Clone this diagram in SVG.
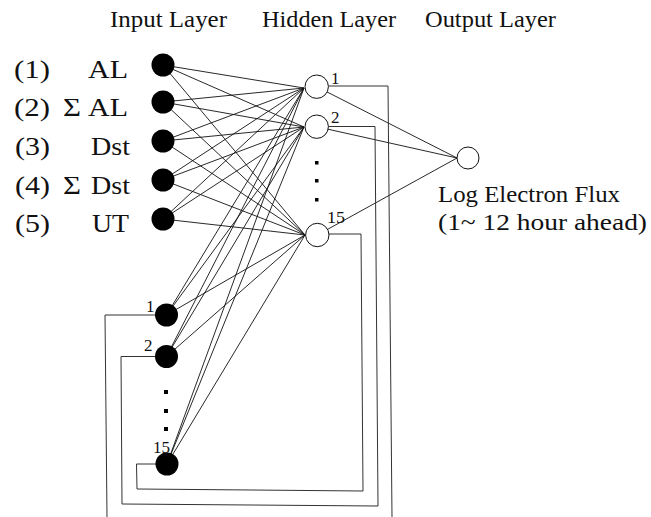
<svg xmlns="http://www.w3.org/2000/svg" width="651" height="517" viewBox="0 0 651 517">
<style>
.t{font-family:"Liberation Serif","Times New Roman",serif;font-size:24px;fill:#111}
.l{font-family:"Liberation Serif","Times New Roman",serif;font-size:26px;fill:#111}
.s{font-family:"Liberation Serif","Times New Roman",serif;font-size:17px;fill:#111}
.e{stroke:#111;stroke-width:0.9;fill:none}
.f{stroke:#333;stroke-width:1;fill:none}
.in{fill:#000}
.hid{fill:#fff;stroke:#111;stroke-width:1}
.dot{fill:#000}
</style>
<rect width="651" height="517" fill="#fff"/>
<g id="headers">
<text class="t" x="110" y="27" textLength="117" lengthAdjust="spacingAndGlyphs">Input Layer</text>
<text class="t" x="262" y="27" textLength="134" lengthAdjust="spacingAndGlyphs">Hidden Layer</text>
<text class="t" x="425" y="27" textLength="131" lengthAdjust="spacingAndGlyphs">Output Layer</text>
</g>
<g id="connectors">
<g class="e">
<path d="M163,65L304,88M163,65L304,127M163,65L305,235"/>
<path d="M163,102L304,88M163,102L304,127M163,102L305,235"/>
<path d="M163,141L304,88M163,141L304,127M163,141L305,235"/>
<path d="M163,180L304,88M163,180L304,127M163,180L305,235"/>
<path d="M163,219L304,88M163,219L304,127M163,219L305,235"/>
<path d="M166.5,315L304,88M166.5,315L304,127M166.5,315L305,235"/>
<path d="M166.5,356.5L304,88M166.5,356.5L304,127M166.5,356.5L305,235"/>
<path d="M167,464L304,88M167,464L304,127M167,464L305,235"/>
<path d="M316.7,86.7L457,158M316.7,126.7L457,158M317.3,235L457,158"/>
</g>
<g class="f">
<polyline points="328.4,86 388,86 392,517"/>
<polyline points="155,315 105,315 107,517"/>
<polyline points="328.4,126.5 375,126.5 378,506 122,504 121,356.5 155,356.5"/>
<polyline points="329,234 361,234 363,491 137,489 136.5,464 156,464"/>
</g>
</g>
<g id="in1"><circle class="in" cx="163" cy="65" r="11.5"/><text class="l" x="14" y="78" textLength="36" lengthAdjust="spacingAndGlyphs">(1)</text><text class="l" x="88" y="78" textLength="40" lengthAdjust="spacingAndGlyphs">AL</text></g>
<g id="in2"><circle class="in" cx="163" cy="102" r="11.5"/><text class="l" x="14" y="116" textLength="36" lengthAdjust="spacingAndGlyphs">(2)</text><text class="l" x="63" y="116" textLength="18" lengthAdjust="spacingAndGlyphs">Σ</text><text class="l" x="88" y="116" textLength="40" lengthAdjust="spacingAndGlyphs">AL</text></g>
<g id="in3"><circle class="in" cx="163" cy="141" r="11.5"/><text class="l" x="15" y="155" textLength="35" lengthAdjust="spacingAndGlyphs">(3)</text><text class="l" x="91" y="155" textLength="39" lengthAdjust="spacingAndGlyphs">Dst</text></g>
<g id="in4"><circle class="in" cx="163" cy="180" r="11.5"/><text class="l" x="15" y="194" textLength="35" lengthAdjust="spacingAndGlyphs">(4)</text><text class="l" x="63" y="194" textLength="18" lengthAdjust="spacingAndGlyphs">Σ</text><text class="l" x="91" y="194" textLength="39" lengthAdjust="spacingAndGlyphs">Dst</text></g>
<g id="in5"><circle class="in" cx="163" cy="219" r="11.5"/><text class="l" x="15" y="232" textLength="35" lengthAdjust="spacingAndGlyphs">(5)</text><text class="l" x="92" y="232" textLength="37" lengthAdjust="spacingAndGlyphs">UT</text></g>
<g id="ctx1"><circle class="in" cx="166.5" cy="315" r="11.5"/><text class="s" x="146" y="312">1</text></g>
<g id="ctx2"><circle class="in" cx="166.5" cy="356.5" r="11.5"/><text class="s" x="144" y="351">2</text></g>
<g id="ctxdots"><rect class="dot" x="164" y="390" width="4" height="4"/><rect class="dot" x="164" y="409" width="4" height="4"/><rect class="dot" x="164" y="427" width="4" height="4"/></g>
<g id="ctx15"><circle class="in" cx="167" cy="464" r="11.5"/><text class="s" x="153" y="453" textLength="17" lengthAdjust="spacingAndGlyphs">15</text></g>
<g id="hid1"><circle class="hid" cx="316.7" cy="86.7" r="11.7"/><text class="s" x="331" y="84">1</text></g>
<g id="hid2"><circle class="hid" cx="316.7" cy="126.7" r="11.7"/><text class="s" x="331" y="123">2</text></g>
<g id="hiddots"><rect class="dot" x="315" y="161" width="3.5" height="3.5"/><rect class="dot" x="315" y="179" width="3.5" height="3.5"/><rect class="dot" x="315" y="198" width="3.5" height="3.5"/></g>
<g id="hid15"><circle class="hid" cx="317.3" cy="235" r="11.7"/><text class="s" x="327" y="223" textLength="18" lengthAdjust="spacingAndGlyphs">15</text></g>
<g id="out"><circle class="hid" cx="468" cy="158" r="11"/><text class="t" x="438" y="202" textLength="182" lengthAdjust="spacingAndGlyphs">Log Electron Flux</text><text class="t" x="438" y="230" textLength="209" lengthAdjust="spacingAndGlyphs">(1~ 12 hour ahead)</text></g>
</svg>
